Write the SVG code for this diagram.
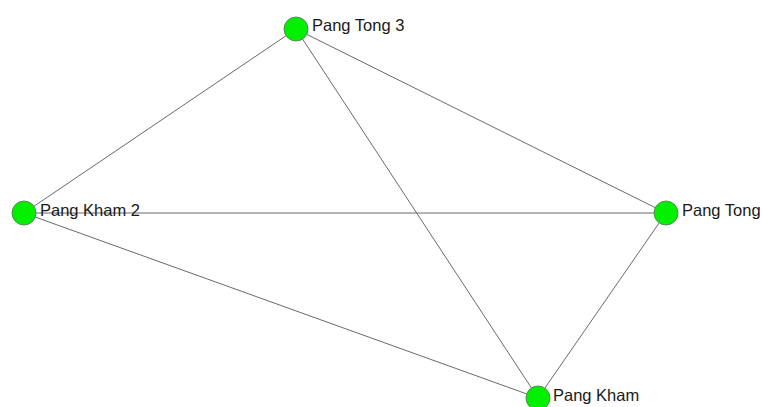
<svg xmlns="http://www.w3.org/2000/svg" width="762" height="407" viewBox="0 0 762 407">
<style>
.edge{stroke:#6a6a6a;stroke-width:1;fill:none}
.node circle{fill:#00f000;stroke:#5a8a5a;stroke-width:1}
.node text{font-family:"Liberation Sans",Arial,sans-serif;font-size:16.5px;fill:#1a1a1a}
</style>
<rect width="762" height="407" fill="#ffffff"/>
<g id="connectors">
<line class="edge" x1="296" y1="29" x2="24" y2="213"/>
<line class="edge" x1="296" y1="29" x2="666" y2="213"/>
<line class="edge" x1="296" y1="29" x2="538" y2="398"/>
<line class="edge" x1="24" y1="213" x2="666" y2="213"/>
<line class="edge" x1="24" y1="213" x2="538" y2="398"/>
<line class="edge" x1="666" y1="213" x2="538" y2="398"/>
</g>
<g id="node-pang-tong-3" class="node"><circle cx="296" cy="29" r="12"/><text x="312" y="31">Pang Tong 3</text></g>
<g id="node-pang-kham-2" class="node"><circle cx="24" cy="213" r="12"/><text x="40" y="216">Pang Kham 2</text></g>
<g id="node-pang-tong" class="node"><circle cx="666" cy="213" r="12"/><text x="682" y="216">Pang Tong</text></g>
<g id="node-pang-kham" class="node"><circle cx="538" cy="398" r="12"/><text x="553" y="401">Pang Kham</text></g>
</svg>
